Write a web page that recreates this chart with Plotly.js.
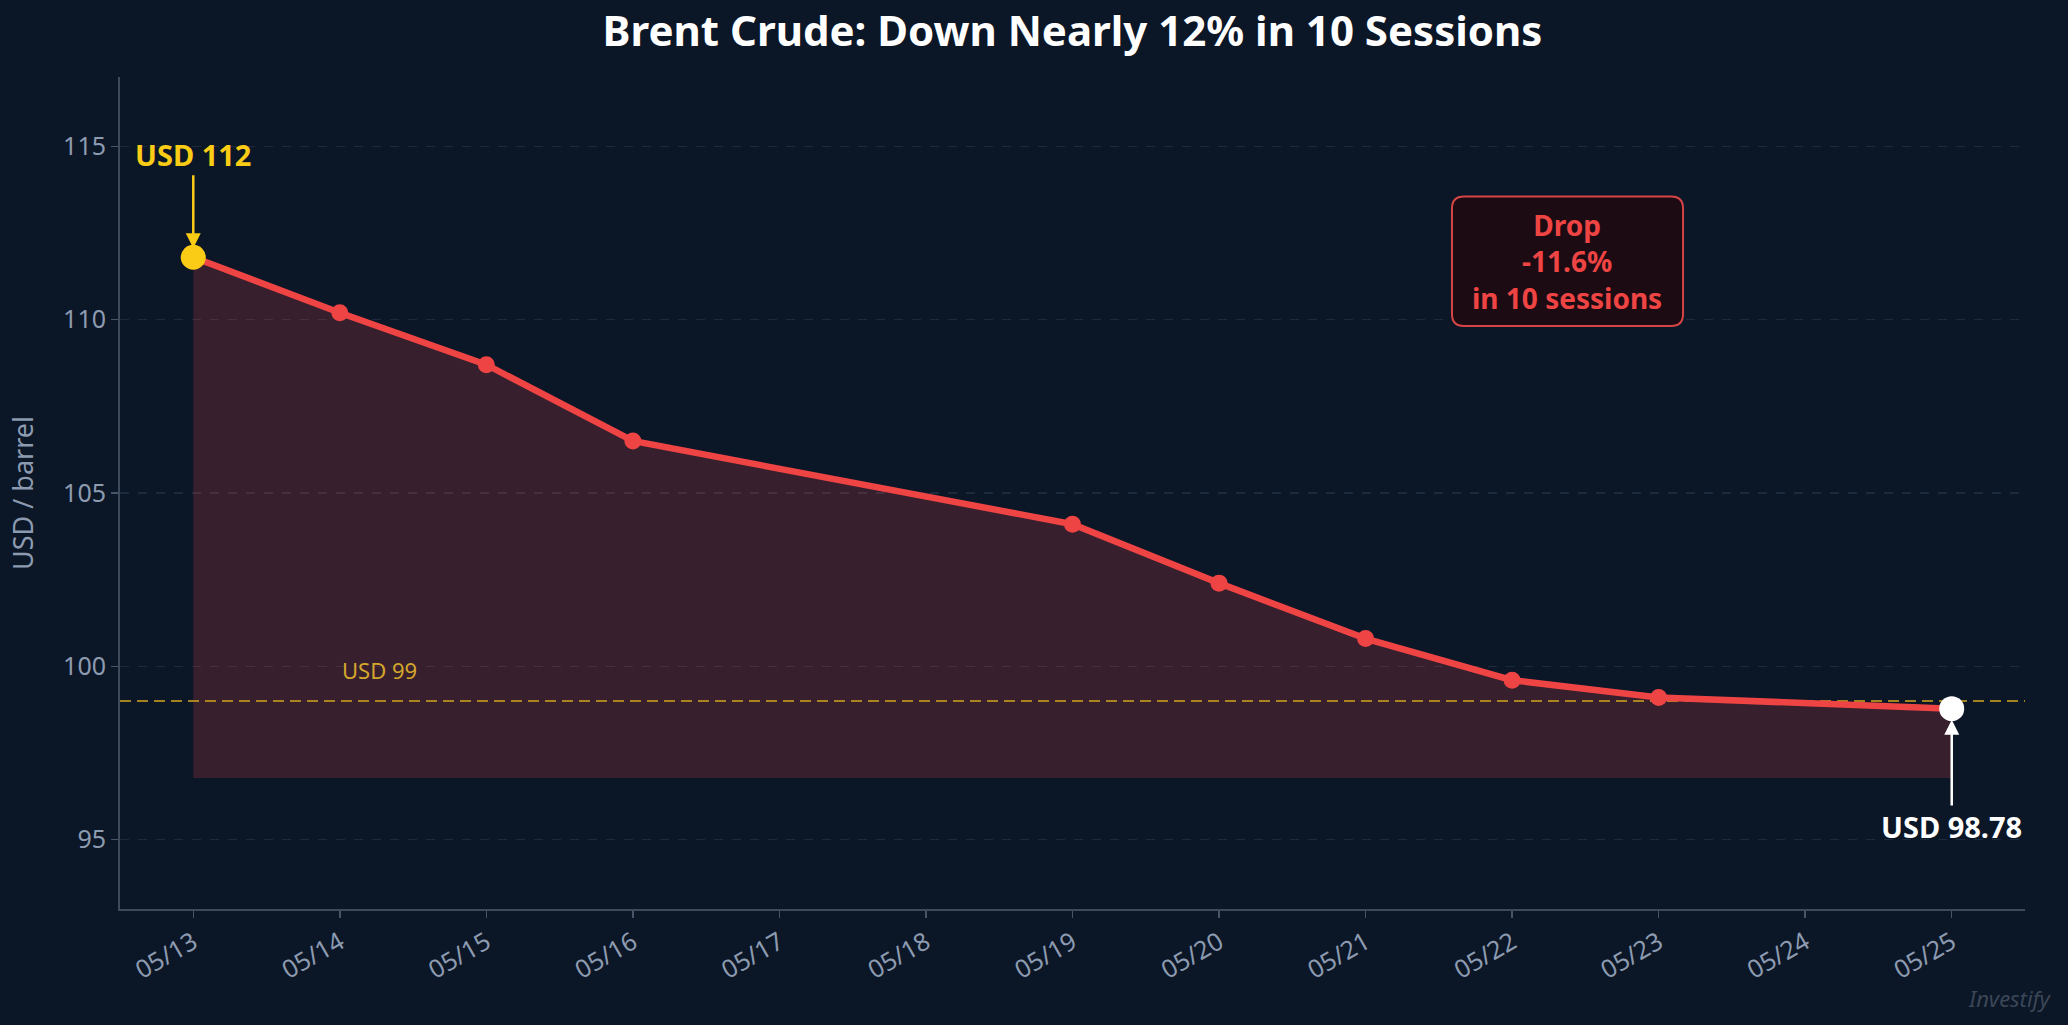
<!DOCTYPE html>
<html>
<head>
<meta charset="utf-8">
<script src="https://cdn.plot.ly/plotly-3.0.1.min.js"></script>
<style>
  html, body { margin: 0; padding: 0; background: #0b1627; }
  #chart { width: 2068px; height: 1025px; }
</style>
</head>
<body>
<div id="chart"></div>
<script>
// session data
var dates = ['2025-05-13', '2025-05-14', '2025-05-15', '2025-05-16', '2025-05-19',
             '2025-05-20', '2025-05-21', '2025-05-22', '2025-05-23', '2025-05-25'];
var prices = [111.8, 110.2, 108.7, 106.5, 104.1, 102.4, 100.8, 99.6, 99.1, 98.78];
var fillFloor = 96.78;
var supportLevel = 99;
var xRange = ['2025-05-12 12:00', '2025-05-25 12:00'];
var yRange = [93, 117];
var yTicks = [95, 100, 105, 110, 115];
var dropLines = ['Drop', '-11.6%', 'in 10 sessions'];

var bg = '#0b1627';
var red = '#ef4444';
var yellow = '#facc15';
var muted = '#8d9bb0';
var font = 'Noto Sans, Open Sans, sans-serif';

var n = dates.length;
var floorY = [], markerColors = [], markerSizes = [];
for (var i = 0; i < n; i++) {
  floorY.push(fillFloor);
  if (i === 0) { markerColors.push(yellow); markerSizes.push(25); }
  else if (i === n - 1) { markerColors.push('#ffffff'); markerSizes.push(25); }
  else { markerColors.push(red); markerSizes.push(17); }
}

var traces = [
  {
    type: 'scatter', x: dates, y: floorY, mode: 'lines',
    line: { width: 0, color: 'rgba(0,0,0,0)' },
    hoverinfo: 'skip', showlegend: false
  },
  {
    type: 'scatter', x: dates, y: prices, mode: 'lines',
    fill: 'tonexty', fillcolor: 'rgba(239,68,68,0.2)',
    line: { width: 0, color: 'rgba(0,0,0,0)' },
    hoverinfo: 'skip', showlegend: false
  },
  {
    type: 'scatter', x: xRange, y: [supportLevel, supportLevel], mode: 'lines',
    line: { color: 'rgba(190,150,30,0.85)', width: 2, dash: '11px,6px' },
    hoverinfo: 'skip', showlegend: false
  },
  {
    type: 'scatter', x: dates, y: prices, mode: 'lines+markers',
    line: { color: red, width: 6.5 },
    marker: { color: markerColors, size: markerSizes, opacity: 1, line: { width: 0 } },
    showlegend: false
  }
];

// rounded box behind the drop label (paper coords)
var bx0 = 0.6992, bx1 = 0.8205, by0 = 0.7007, by1 = 0.8564, rx = 0.0063, ry = 0.0144;
var boxPath = 'M ' + (bx0 + rx) + ',' + by1 +
  ' L ' + (bx1 - rx) + ',' + by1 +
  ' Q ' + bx1 + ',' + by1 + ' ' + bx1 + ',' + (by1 - ry) +
  ' L ' + bx1 + ',' + (by0 + ry) +
  ' Q ' + bx1 + ',' + by0 + ' ' + (bx1 - rx) + ',' + by0 +
  ' L ' + (bx0 + rx) + ',' + by0 +
  ' Q ' + bx0 + ',' + by0 + ' ' + bx0 + ',' + (by0 + ry) +
  ' L ' + bx0 + ',' + (by1 - ry) +
  ' Q ' + bx0 + ',' + by1 + ' ' + (bx0 + rx) + ',' + by1 + ' Z';

var annotations = [
  {
    x: dates[0], y: prices[0], xref: 'x', yref: 'y',
    ax: dates[0], ay: 114.77, axref: 'x', ayref: 'y',
    text: '<b>USD 112</b>', showarrow: true,
    arrowhead: 2, arrowsize: 1.2, arrowwidth: 2.5, arrowcolor: yellow, standoff: 9,
    font: { family: font, size: 29, color: yellow }
  },
  {
    x: dates[n - 1], y: prices[n - 1], xref: 'x', yref: 'y',
    ax: dates[n - 1], ay: 95.38, axref: 'x', ayref: 'y',
    text: '<b>USD ' + prices[n - 1].toFixed(2) + '</b>', showarrow: true,
    arrowhead: 2, arrowsize: 1.2, arrowwidth: 2.5, arrowcolor: '#ffffff', standoff: 11,
    font: { family: font, size: 29, color: '#ffffff' }
  },
  {
    x: dates[1], y: 99.88, xref: 'x', yref: 'y',
    xanchor: 'left', yanchor: 'middle',
    text: 'USD ' + supportLevel, showarrow: false,
    font: { family: font, size: 22, color: '#d4a72c' }
  },
  {
    x: 0.7596, y: 0.7788, xref: 'paper', yref: 'paper',
    xanchor: 'center', yanchor: 'middle', align: 'center',
    text: '<b>' + dropLines.join('<br>') + '</b>', showarrow: false,
    font: { family: font, size: 28, color: red }
  },
  {
    x: 1.0152, y: -0.107, xref: 'paper', yref: 'paper',
    xanchor: 'right', yanchor: 'middle',
    text: '<i>Investify</i>', showarrow: false,
    font: { family: font, size: 22, color: '#3b4757' }
  }
];

var layout = {
  width: 2068,
  height: 1025,
  paper_bgcolor: bg,
  plot_bgcolor: bg,
  margin: { l: 120, r: 43, t: 77, b: 116 },
  font: { family: font, color: muted },
  title: {
    text: 'Brent Crude: Down Nearly 12% in 10 Sessions',
    font: { family: font, size: 42, color: '#ffffff', weight: 'bold' },
    x: 0.5, xref: 'paper', xanchor: 'center',
    y: 0.969, yref: 'container', yanchor: 'middle'
  },
  xaxis: {
    type: 'date',
    range: xRange,
    tick0: dates[0],
    dtick: 86400000,
    tickformat: '%m/%d',
    tickangle: -30,
    tickfont: { family: font, size: 25, color: muted },
    ticks: 'outside', ticklen: 7, tickwidth: 1.5, tickcolor: '#475569',
    showgrid: false, zeroline: false,
    showline: true, linecolor: '#3d4a5c', linewidth: 2,
    automargin: false
  },
  yaxis: {
    range: yRange,
    tickvals: yTicks,
    tickfont: { family: font, size: 25, color: muted },
    ticks: 'outside', ticklen: 7, tickwidth: 1.5, tickcolor: '#475569',
    showgrid: true, gridcolor: '#1c2a3d', gridwidth: 1.5, griddash: 'dash',
    zeroline: false,
    showline: true, linecolor: '#3d4a5c', linewidth: 2,
    title: { text: 'USD / barrel', font: { family: font, size: 27, color: muted }, standoff: 22 },
    automargin: true
  },
  shapes: [
    {
      type: 'path', xref: 'paper', yref: 'paper', path: boxPath,
      fillcolor: '#1d0b13', line: { color: '#d64545', width: 2 }, layer: 'above'
    }
  ],
  annotations: annotations
};

Plotly.newPlot('chart', traces, layout, { displayModeBar: false, staticPlot: true });
</script>
</body>
</html>
